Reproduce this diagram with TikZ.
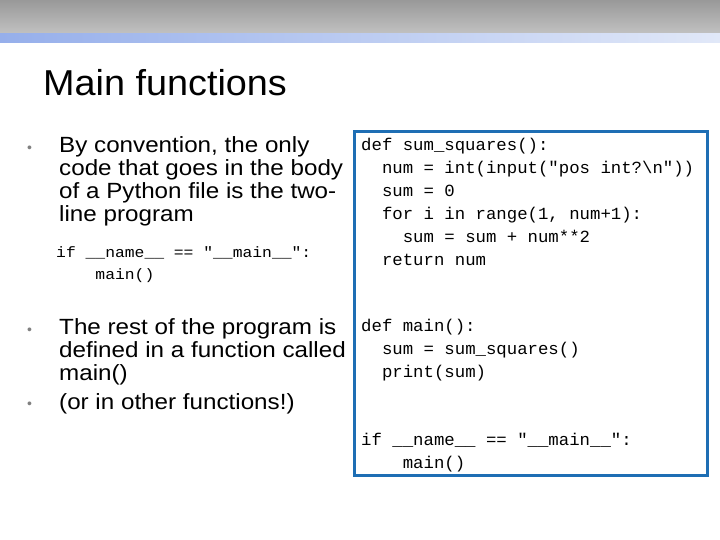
\documentclass[tikz,border=0pt]{standalone}
\usepackage{fontspec}
\setmainfont{Liberation Sans}
\newfontfamily\codefont{Liberation Mono}
\begin{document}
\begin{tikzpicture}[x=1pt,y=-1pt,
  body/.style={anchor=north west,inner sep=0pt,align=left,xscale=1.1,transform shape,font=\fontsize{22}{23}\selectfont},
  code/.style={anchor=north west,inner sep=0pt,align=left,xscale=1.02,transform shape,font=\codefont\fontsize{17}{23}\selectfont},
  bul/.style={anchor=north west,inner sep=0pt,text=gray,font=\fontsize{14}{14}\selectfont}]
\useasboundingbox (0,0) rectangle (720,540);
\shade[top color=gray!80,bottom color=gray!120!black!60] (0,0) rectangle (720,34);
\shade[left color={rgb,255:red,150;green,175;blue,235},right color={rgb,255:red,225;green,232;blue,248}] (0,34) rectangle (720,43);
\node[anchor=west,inner sep=0pt,xscale=1.05,transform shape,font=\fontsize{36}{40}\selectfont] (title) at (43,83) {Main functions};
\node[bul] (b1) at (27,146) {•};
\node[body] (t1) at (59,136) {By convention, the only\\code that goes in the body\\of a Python file is the two-\\line program};
\node[anchor=north west,inner sep=0pt,align=left,xscale=1.09,transform shape,font=\codefont\fontsize{15}{22}\selectfont] (lc) at (56,246) {if \_\_name\_\_ == "\_\_main\_\_":\\\ \ \ \ main()};
\node[bul] (b2) at (27,328) {•};
\node[body] (t2) at (59,318) {The rest of the program is\\defined in a function called\\main()};
\node[bul] (b3) at (27,402) {•};
\node[body] (t3) at (59,393) {(or in other functions!)};
\draw[line width=3pt,color={rgb,255:red,30;green,110;blue,180}] (354,132) rectangle (707,475);
\node[code] (c1) at (361,138) {def sum\_squares():\\\ \ num = int(input("pos int?\textbackslash n"))\\\ \ sum = 0\\\ \ for i in range(1, num+1):\\\ \ \ \ sum = sum + num**2\\\ \ return num};
\node[code] (c2) at (361,319) {def main():\\\ \ sum = sum\_squares()\\\ \ print(sum)};
\node[code] (c3) at (361,433) {if \_\_name\_\_ == "\_\_main\_\_":\\\ \ \ \ main()};
\end{tikzpicture}
\end{document}
